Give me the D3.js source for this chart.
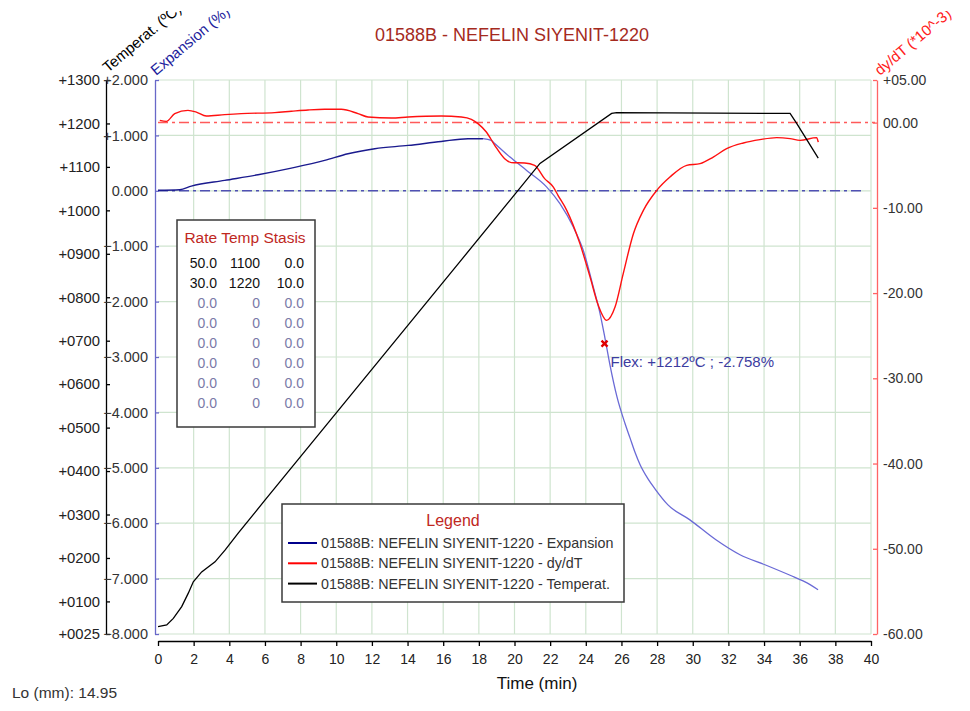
<!DOCTYPE html>
<html>
<head>
<meta charset="utf-8">
<script src="https://cdn.jsdelivr.net/npm/d3@7/dist/d3.min.js"></script>
<style>
  body { margin: 0; background: #fff; }
  svg  { font-family: "Liberation Sans", Arial, sans-serif; }
</style>
</head>
<body>
<script>
// ************************************************************************************
// DATA
// ************************************************************************************
var timeTicks  = [0, 2, 4, 6, 8, 10, 12, 14, 16, 18, 20, 22, 24, 26, 28, 30, 32, 34, 36, 38, 40]
  , tempTicks  = [1300, 1200, 1100, 1000, 900, 800, 700, 600, 500, 400, 300, 200, 100, 25]
  , expTicks   = [2, 1, 0, -1, -2, -3, -4, -5, -6, -7, -8]
  , dydtTicks  = [5, 0, -10, -20, -30, -40, -50, -60]

// temperature (ºC) vs time (min)
var tempTime  = [0, 0.49, 0.86, 1.33, 1.70, 1.98, 2.45, 3.20, 3.76, 4.50, 6.00, 16.94, 21.43, 25.45, 25.73, 35.46, 35.83, 37.04]
  , tempValue = [42, 46, 61, 88, 119, 145, 168, 191, 218, 257, 333, 882, 1108, 1223, 1225, 1223, 1200, 1120]

// expansion (%) vs time (min)
var expTime  = [0, 1.22, 1.87, 3.74, 5.61, 7.48, 9.35, 10.66, 12.16, 14.03, 15.89, 17.39, 18.23, 18.70, 18.81,
                19.75, 20.68, 21.81, 22.55, 23.30, 23.86, 24.42, 24.80, 25.08, 25.36, 25.75, 26.20, 26.48, 26.76,
                27.04, 27.49, 27.88, 28.61, 29.84, 31.30, 32.65, 34.05, 35.46, 36.30, 37.03]
  , expValue = [0.01, 0.02, 0.085, 0.188, 0.29, 0.41, 0.548, 0.669, 0.759, 0.819, 0.891, 0.940, 0.940, 0.909, 0.878,
                0.608, 0.368, 0.067, -0.233, -0.655, -1.075, -1.737, -2.216, -2.667, -3.15, -3.72, -4.20, -4.46, -4.72,
                -4.94, -5.20, -5.38, -5.67, -5.94, -6.30, -6.57, -6.75, -6.94, -7.06, -7.20]

// dy/dT (*10^-3) vs time (min)
var dydtTime  = [0.1, 0.47, 0.94, 1.68, 2.15, 2.71, 3.74, 4.67, 6.55, 7.48, 8.42, 9.35, 10.28, 11.22, 11.78, 13.09,
                 14.03, 15.89, 17.02, 17.58, 17.95, 18.42, 18.89, 19.45, 19.82, 20.57, 21.13, 21.69, 22.18, 22.44,
                 22.93, 23.67, 24.24, 24.70, 25.17, 25.64, 26.10, 26.67, 27.23, 27.98, 28.72, 29.66, 30.41, 31.15,
                 31.90, 32.84, 33.77, 34.71, 35.46, 36.02, 36.95, 37.04]
  , dydtValue = [0.27, 0.15, 1.06, 1.44, 1.24, 0.77, 0.94, 1.06, 1.17, 1.33, 1.48, 1.56, 1.56, 1.06, 0.66, 0.54,
                 0.66, 0.77, 0.66, 0.39, -0.12, -1.10, -2.66, -4.23, -4.69, -4.74, -5.01, -6.57, -7.56, -8.53,
                 -10.29, -14.20, -18.12, -21.44, -23.20, -21.64, -17.72, -13.03, -10.29, -7.95, -6.38, -5.01, -4.81, -4.04,
                 -3.05, -2.39, -2.00, -1.76, -1.88, -2.08, -1.76, -2.28]

// flex point
var flexTime = 25.05, flexTemp = 1212, flexExp = -2.758

// thermal program table
var progRate   = ["50.0", "30.0", "0.0", "0.0", "0.0", "0.0", "0.0", "0.0"]
  , progTemp   = ["1100", "1220", "0", "0", "0", "0", "0", "0"]
  , progStasis = ["0.0", "10.0", "0.0", "0.0", "0.0", "0.0", "0.0", "0.0"]

var legendLabels = ["01588B: NEFELIN SIYENIT-1220 - Expansion",
                    "01588B: NEFELIN SIYENIT-1220 - dy/dT",
                    "01588B: NEFELIN SIYENIT-1220 - Temperat."]
  , legendColors = ["#00008c", "#ff0000", "#000000"]

// ************************************************************************************
// SCALES
// ************************************************************************************
var W = 970, H = 711
  , pLeft = 158, pRight = 871, pTop = 80, pBottom = 634

var x     = d3.scaleLinear().domain([0, 40]).range([pLeft, pRight])
  , yTemp = d3.scaleLinear().domain([25, 1300]).range([pBottom, pTop])
  , yExp  = d3.scaleLinear().domain([-8, 2]).range([pBottom, pTop])
  , yDydt = d3.scaleLinear().domain([-60, 5]).range([pBottom, pTop])

var svg = d3.select("body").append("svg")
            .attr("width", W)
            .attr("height", H)

svg.append("rect").attr("width", W).attr("height", H).attr("fill", "#fff")

var defs = svg.append("defs")
defs.append("clipPath").attr("id", "plotclip")
    .append("rect").attr("x", pLeft).attr("y", pTop - 2).attr("width", pRight - pLeft + 1).attr("height", pBottom - pTop + 4)
defs.append("clipPath").attr("id", "topclip")
    .append("rect").attr("x", 0).attr("y", 11).attr("width", W).attr("height", H)

// ************************************************************************************
// GRID
// ************************************************************************************
var grid = svg.append("g").attr("stroke", "#cfe4cf").attr("stroke-width", 1.2)

grid.selectAll(".gv").data(timeTicks.filter(function(d){ return d > 0 }))
    .enter().append("line")
    .attr("x1", function(d){ return x(d) }).attr("x2", function(d){ return x(d) })
    .attr("y1", pTop).attr("y2", pBottom)

grid.selectAll(".gh").data(expTicks)
    .enter().append("line")
    .attr("x1", pLeft).attr("x2", pRight)
    .attr("y1", function(d){ return yExp(d) }).attr("y2", function(d){ return yExp(d) })

// zero reference lines (dash-dot)
svg.append("line")
   .attr("x1", pLeft).attr("x2", pRight + 4)
   .attr("y1", yDydt(0)).attr("y2", yDydt(0))
   .attr("stroke", "#ff5a5a").attr("stroke-width", 1.5)
   .attr("stroke-dasharray", "10,4,3,4")

svg.append("line")
   .attr("x1", pLeft).attr("x2", pRight - 6)
   .attr("y1", yExp(0)).attr("y2", yExp(0))
   .attr("stroke", "#5050b4").attr("stroke-width", 1.5)
   .attr("stroke-dasharray", "10,4,3,4")

// ************************************************************************************
// AXES
// ************************************************************************************
var fmtTemp = function (d) { return "+" + d3.format("04d")(d) }
  , fmtExp  = function (d) { return (d > 0 ? "+" : "") + d3.format(".3f")(d) }
  , fmtDydt = function (d) { return (d > 0 ? "+" : "") + (d < 0 ? "-" : "") + d3.format("05.2f")(Math.abs(d)) }

var styleAxis = function (g, col, txt, fs) {
  g.selectAll("path").attr("stroke", col).attr("stroke-width", 1.3)
  g.selectAll("line").attr("stroke", col).attr("stroke-width", 1.3)
  g.selectAll("text").attr("fill", txt).style("font-size", fs || "14px")
  g.attr("font-family", null)
}

var gTemp = svg.append("g").attr("transform", "translate(106,0)")
               .call(d3.axisLeft(yTemp).tickValues(tempTicks).tickFormat(fmtTemp)
                       .tickSizeInner(-4).tickSizeOuter(0).tickPadding(6))
styleAxis(gTemp, "#000", "#222", "14.8px")

var gExp = svg.append("g").attr("transform", "translate(155,0)")
              .call(d3.axisLeft(yExp).tickValues(expTicks).tickFormat(fmtExp)
                      .tickSizeInner(-4).tickSizeOuter(0).tickPadding(7))
styleAxis(gExp, "#6868c8", "#333", "14.5px")

var gDydt = svg.append("g").attr("transform", "translate(877,0)")
               .call(d3.axisRight(yDydt).tickValues(dydtTicks).tickFormat(fmtDydt)
                       .tickSizeInner(-4).tickSizeOuter(0).tickPadding(6))
styleAxis(gDydt, "#ff6464", "#333", "14px")

var gX = svg.append("g").attr("transform", "translate(0,641)")
            .call(d3.axisBottom(x).tickValues(timeTicks).tickSizeInner(5).tickSizeOuter(0).tickPadding(8))
styleAxis(gX, "#000", "#222", "14px")

// axis titles
var titles = svg.append("g").attr("clip-path", "url(#topclip)").style("font-size", "15px")
titles.append("text").attr("transform", "translate(108,73) rotate(-40)")
      .attr("fill", "#000").text("Temperat. (ºC)")
titles.append("text").attr("transform", "translate(156,76) rotate(-40)")
      .attr("fill", "#1c1c9c").text("Expansion (%)")
titles.append("text").attr("transform", "translate(880,76) rotate(-40)")
      .attr("fill", "#ff2020").text("dy/dT (*10^-3)")

svg.append("text").attr("x", 537).attr("y", 689).attr("text-anchor", "middle")
   .style("font-size", "17px").attr("fill", "#111").text("Time (min)")

svg.append("text").attr("x", 512).attr("y", 41).attr("text-anchor", "middle")
   .style("font-size", "18px").attr("fill", "#a52a1e").text("01588B - NEFELIN SIYENIT-1220")

svg.append("text").attr("x", 12).attr("y", 698)
   .style("font-size", "15.5px").attr("fill", "#333").text("Lo (mm): 14.95")

// ************************************************************************************
// CURVES
// ************************************************************************************
var plot = svg.append("g").attr("clip-path", "url(#plotclip)")

var zip = function (ts, vs) { return ts.map(function (t, i) { return [t, vs[i]] }) }

var expPts  = zip(expTime, expValue)
  , dydtPts = zip(dydtTime, dydtValue)
  , tempPts = zip(tempTime, tempValue)

var lineExp  = d3.line().x(function(d){ return x(d[0]) }).y(function(d){ return yExp(d[1]) }).curve(d3.curveMonotoneX)
  , lineDydt = d3.line().x(function(d){ return x(d[0]) }).y(function(d){ return yDydt(d[1]) }).curve(d3.curveMonotoneX)
  , lineTemp = d3.line().x(function(d){ return x(d[0]) }).y(function(d){ return yTemp(d[1]) })

plot.append("path").attr("d", lineExp(expPts.filter(function(d){ return d[0] <= 18.3 })))
    .attr("fill", "none").attr("stroke", "#1a1a8e").attr("stroke-width", 1.4)
plot.append("path").attr("d", lineExp(expPts.filter(function(d){ return d[0] >= 18.2 })))
    .attr("fill", "none").attr("stroke", "#6a6ad6").attr("stroke-width", 1.3)

plot.append("path").attr("d", lineDydt(dydtPts))
    .attr("fill", "none").attr("stroke", "#ff1010").attr("stroke-width", 1.4)

plot.append("path").attr("d", lineTemp(tempPts))
    .attr("fill", "none").attr("stroke", "#000").attr("stroke-width", 1.3)

// flex marker
var fx = x(flexTime), fy = yExp(flexExp)
svg.append("path")
   .attr("d", "M" + (fx - 3) + "," + (fy - 3) + "L" + (fx + 3) + "," + (fy + 3) +
              "M" + (fx + 3) + "," + (fy - 3) + "L" + (fx - 3) + "," + (fy + 3))
   .attr("stroke", "#e00000").attr("stroke-width", 2.4)
svg.append("text").attr("x", fx + 6).attr("y", fy + 23)
   .style("font-size", "15px").attr("fill", "#3c3ca0")
   .text("Flex: +" + flexTemp + "ºC ; " + flexExp.toFixed(3) + "%")

// ************************************************************************************
// PROGRAM TABLE
// ************************************************************************************
var tbl = svg.append("g")
tbl.append("rect").attr("x", 177).attr("y", 220).attr("width", 138).attr("height", 207)
   .attr("fill", "#fff").attr("stroke", "#3a3a3a").attr("stroke-width", 1.5)
tbl.append("text").attr("x", 245).attr("y", 243).attr("text-anchor", "middle")
   .style("font-size", "15.5px").attr("fill", "#c0281e").text("Rate Temp Stasis")

var rowCol = function (i) { return i < 2 ? "#111" : "#7a7aa8" }
progRate.forEach(function (v, i) {
  var yy = 268 + i * 20
  tbl.append("text").attr("x", 217).attr("y", yy).attr("text-anchor", "end")
     .style("font-size", "14px").attr("fill", rowCol(i)).text(v)
  tbl.append("text").attr("x", 260).attr("y", yy).attr("text-anchor", "end")
     .style("font-size", "14px").attr("fill", rowCol(i)).text(progTemp[i])
  tbl.append("text").attr("x", 304).attr("y", yy).attr("text-anchor", "end")
     .style("font-size", "14px").attr("fill", rowCol(i)).text(progStasis[i])
})

// ************************************************************************************
// LEGEND
// ************************************************************************************
var leg = svg.append("g")
leg.append("rect").attr("x", 282).attr("y", 504).attr("width", 342).attr("height", 98)
   .attr("fill", "#fff").attr("stroke", "#3a3a3a").attr("stroke-width", 1.5)
leg.append("text").attr("x", 453).attr("y", 526).attr("text-anchor", "middle")
   .style("font-size", "16px").attr("fill", "#c0281e").text("Legend")

legendLabels.forEach(function (lab, i) {
  var yy = 543 + i * 20.3
  leg.append("line").attr("x1", 288).attr("x2", 317).attr("y1", yy).attr("y2", yy)
     .attr("stroke", legendColors[i]).attr("stroke-width", 2)
  leg.append("text").attr("x", 321).attr("y", yy + 5)
     .style("font-size", "14.3px").attr("fill", "#333").text(lab)
})
</script>
</body>
</html>
